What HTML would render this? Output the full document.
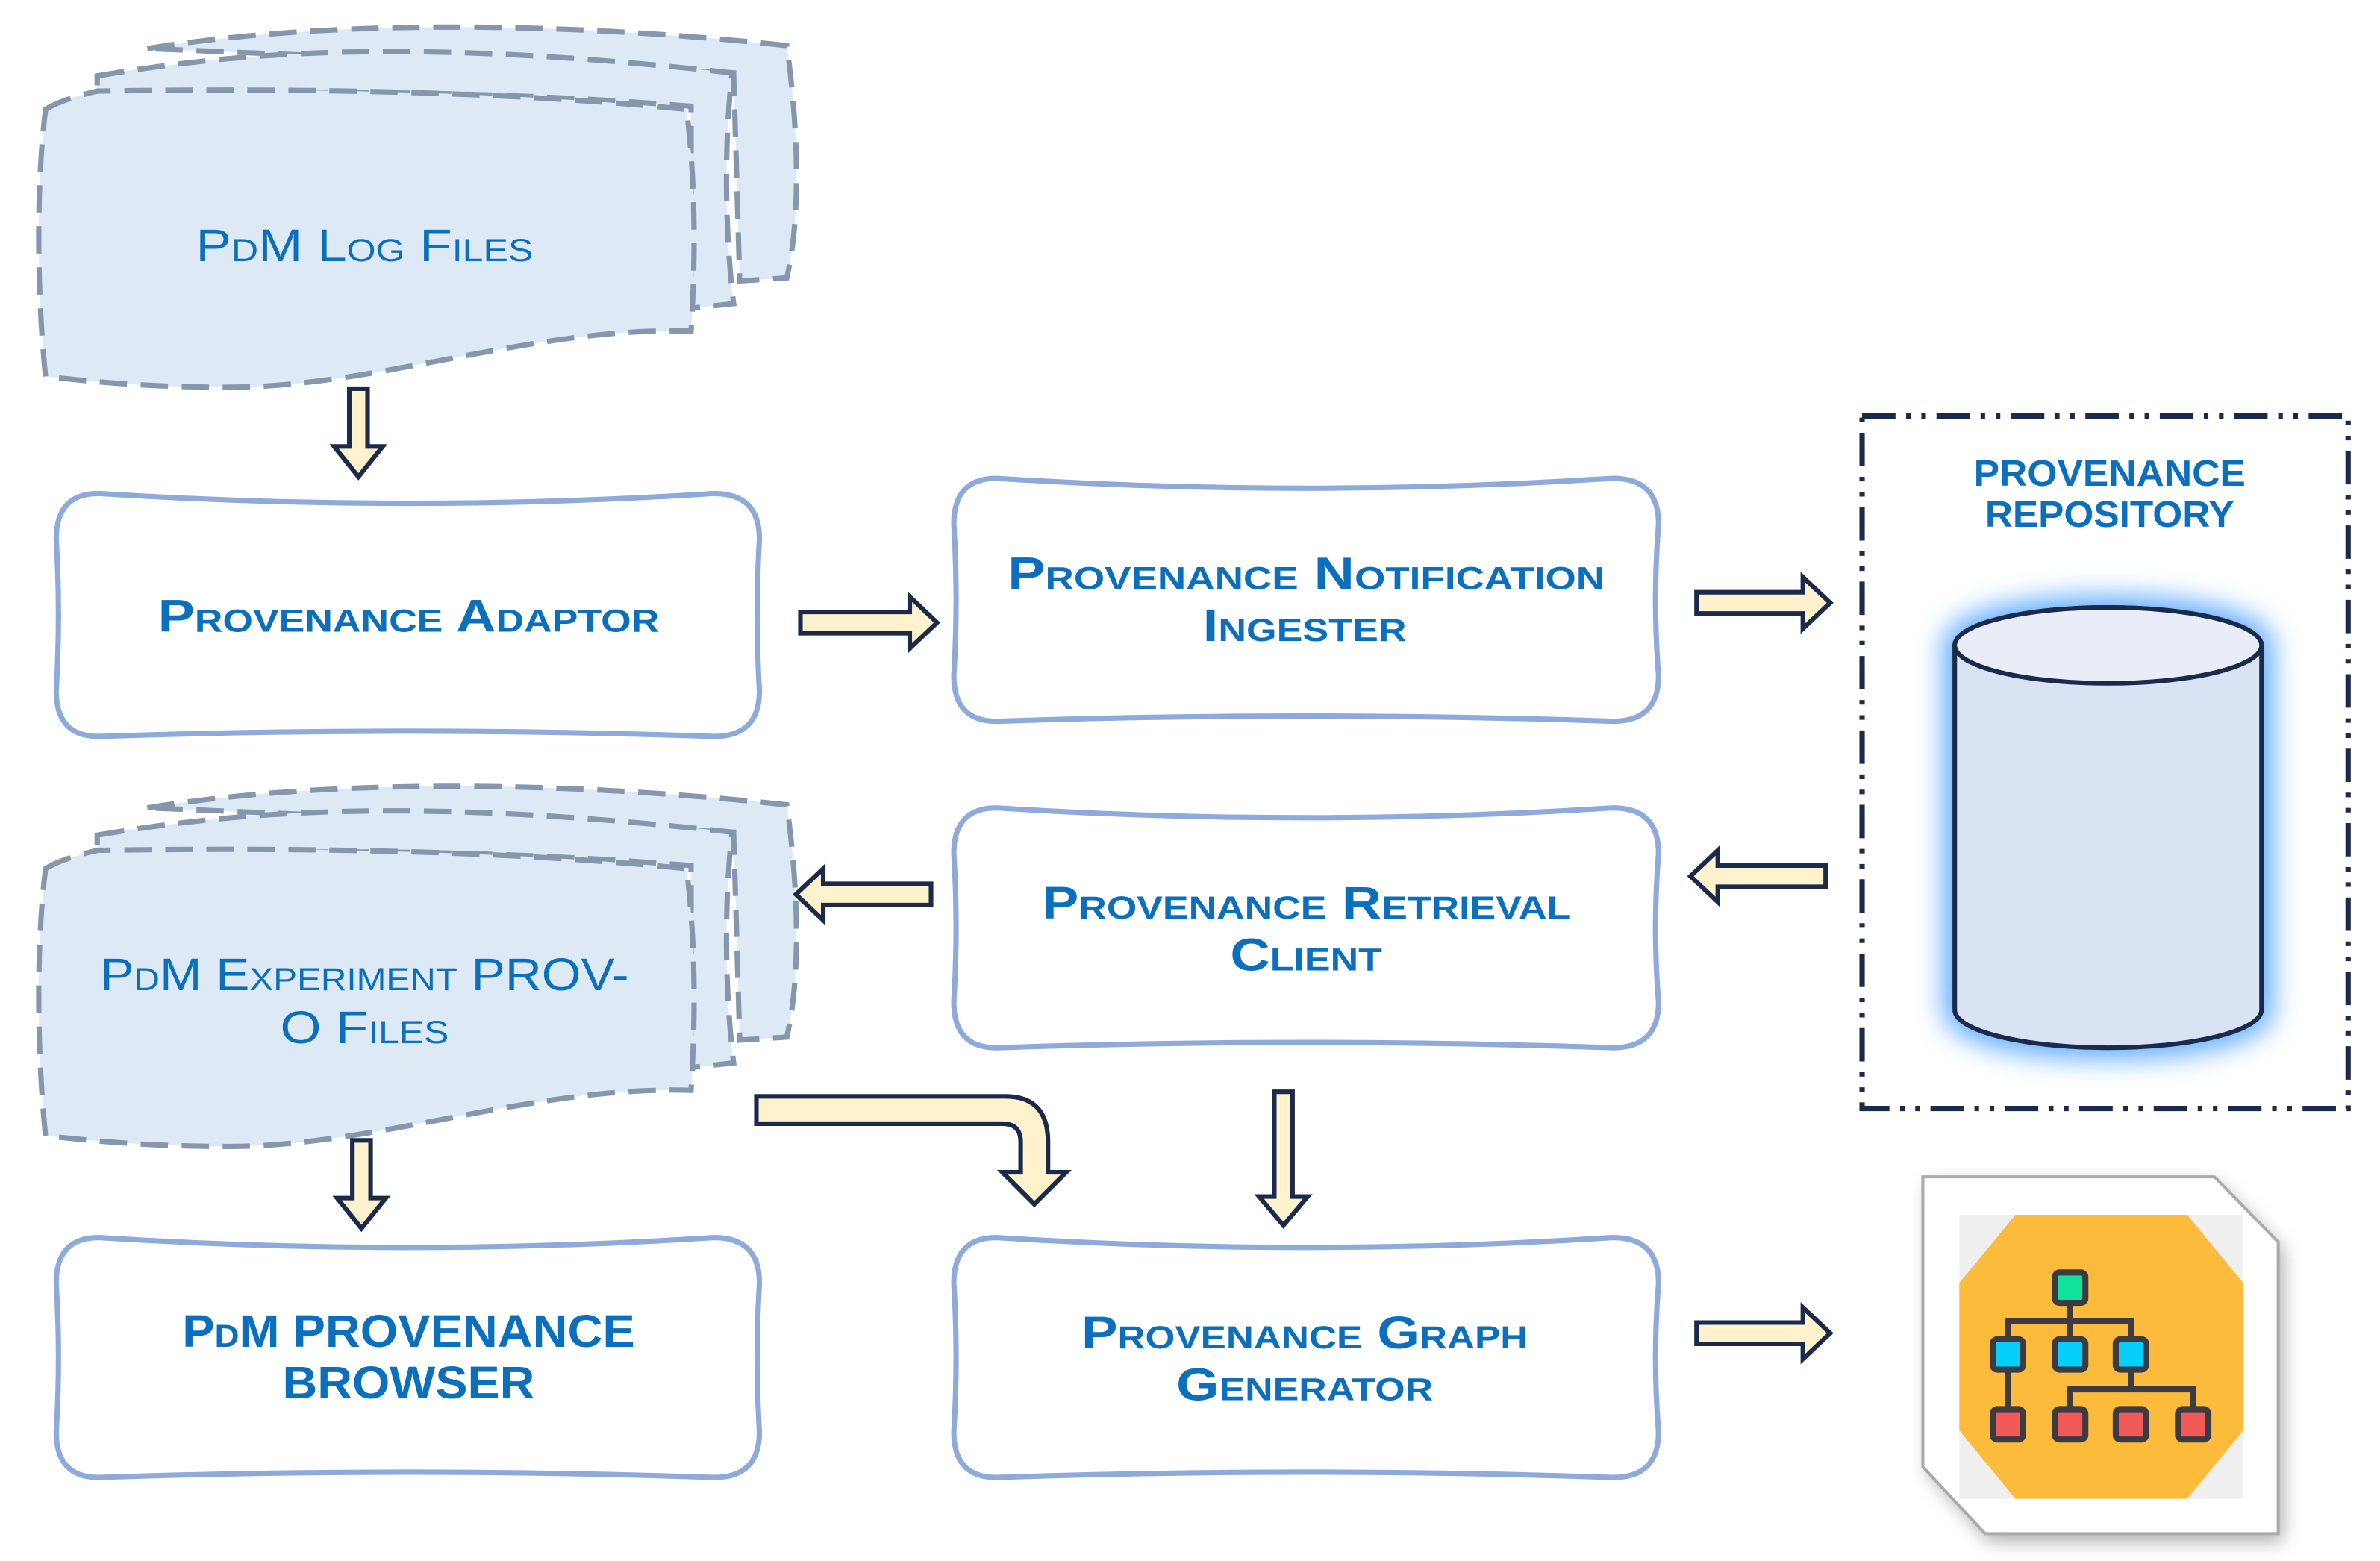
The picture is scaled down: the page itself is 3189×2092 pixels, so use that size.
<!DOCTYPE html>
<html><head><meta charset="utf-8"><style>
html,body{margin:0;padding:0;background:#fff;}
svg{display:block;}
text{font-family:"Liberation Sans",sans-serif;font-variant:small-caps;fill:#0a6fbd;text-anchor:middle;}
.b{font-weight:bold;}
</style></head><body>
<svg width="3189" height="2092" viewBox="0 0 1567 1028" preserveAspectRatio="none" xmlns="http://www.w3.org/2000/svg">
<defs>
<filter id="glow" x="-30%" y="-30%" width="160%" height="160%"><feGaussianBlur stdDeviation="9"/></filter>
<filter id="sh" x="-20%" y="-20%" width="140%" height="140%"><feGaussianBlur stdDeviation="6"/></filter>
<g id="doc">
<path d="M97,32 C200,15 350,12 518,30 C525,80 528,140 518,183 L487,185 L483,48 Z" fill="#dde9f5" stroke="#8596ad" stroke-width="3.5" stroke-dasharray="18,9"/>
<path d="M64,50 C180,30 300,28 482,48 C476,100 478,160 483,200 L455,203 L455,70 C330,60 200,58 64,66 Z" fill="#dde9f5" stroke="#8596ad" stroke-width="3.5" stroke-dasharray="18,9"/>
<path d="M30,72 C40,66 55,62 64,60 C200,58 330,60 452,72 C458,120 458,170 455,218 C350,215 250,255 150,255 C90,255 50,250 30,248 C24,190 24,120 30,72 Z" fill="#dde9f5" stroke="#8596ad" stroke-width="3.5" stroke-dasharray="18,9"/>
</g>
</defs>
<use href="#doc"/>
<use href="#doc" transform="translate(0,500)"/>
<text x="240" y="172" font-size="30" textLength="222" lengthAdjust="spacingAndGlyphs">PdM Log Files</text>
<text x="240" y="652" font-size="30" textLength="348" lengthAdjust="spacingAndGlyphs">PdM Experiment PROV-</text>
<text x="240" y="687" font-size="30" textLength="111" lengthAdjust="spacingAndGlyphs">O Files</text>

<g fill="#fff" stroke="#8eaadb" stroke-width="3.5">
<path d="M65,325 Q270,338 470,325 Q500,325 500,355 Q497,405 500,455 Q500,485 470,485 Q270,478 65,485 Q37,485 37,455 Q40,405 37,355 Q37,325 65,325 Z"/>
<path d="M656,315 Q860,328 1062,315 Q1092,315 1092,345 Q1088,395 1092,445 Q1092,475 1062,475 Q860,468 656,475 Q628,475 628,445 Q631,395 628,345 Q628,315 656,315 Z"/>
<path d="M656,532 Q860,545 1062,532 Q1092,532 1092,562 Q1088,611 1092,660 Q1092,690 1062,690 Q860,683 656,690 Q628,690 628,660 Q631,611 628,562 Q628,532 656,532 Z"/>
<path d="M65,815 Q270,828 470,815 Q500,815 500,845 Q497,894 500,943 Q500,973 470,973 Q270,966 65,973 Q37,973 37,943 Q40,894 37,845 Q37,815 65,815 Z"/>
<path d="M656,815 Q860,828 1062,815 Q1092,815 1092,845 Q1088,894 1092,943 Q1092,973 1062,973 Q860,966 656,973 Q628,973 628,943 Q631,894 628,845 Q628,815 656,815 Z"/>
</g>
<text class="b" x="269" y="416" font-size="30" textLength="330" lengthAdjust="spacingAndGlyphs">Provenance Adaptor</text>
<text class="b" x="860" y="388" font-size="30" textLength="393" lengthAdjust="spacingAndGlyphs">Provenance Notification</text>
<text class="b" x="859" y="422" font-size="30" textLength="134" lengthAdjust="spacingAndGlyphs">Ingester</text>
<text class="b" x="860" y="605" font-size="30" textLength="348" lengthAdjust="spacingAndGlyphs">Provenance Retrieval</text>
<text class="b" x="860" y="639" font-size="30" textLength="100" lengthAdjust="spacingAndGlyphs">Client</text>
<text class="b" x="269" y="887" font-size="30" textLength="298" lengthAdjust="spacingAndGlyphs">PdM PROVENANCE</text>
<text class="b" x="269" y="921" font-size="30" textLength="166" lengthAdjust="spacingAndGlyphs">BROWSER</text>
<text class="b" x="859" y="888" font-size="30" textLength="294" lengthAdjust="spacingAndGlyphs">Provenance Graph</text>
<text class="b" x="859" y="922" font-size="30" textLength="169" lengthAdjust="spacingAndGlyphs">Generator</text>

<rect x="1226" y="274" width="320" height="456" fill="none" stroke="#1a2a4a" stroke-width="3.5" stroke-dasharray="22,7,3,7,3,7"/>
<text class="b" x="1389" y="320" font-size="24" textLength="179" lengthAdjust="spacingAndGlyphs">PROVENANCE</text>
<text class="b" x="1389" y="347" font-size="24" textLength="164" lengthAdjust="spacingAndGlyphs">REPOSITORY</text>
<g filter="url(#glow)"><path d="M1287,425 A101,25 0 0 1 1489,425 V665 A101,25 0 0 1 1287,665 Z" fill="#5aa8ff" stroke="#5aa8ff" stroke-width="14"/></g>
<path d="M1287,425 A101,25 0 0 1 1489,425 V665 A101,25 0 0 1 1287,665 Z" fill="#dae3f3" stroke="#1a2a4a" stroke-width="3"/>
<ellipse cx="1388" cy="425" rx="101" ry="25" fill="#e8edf8" stroke="#1a2a4a" stroke-width="3"/>

<path d="M1270,780 L1460,780 L1503,823 L1503,1015 L1310,1015 L1270,970 Z" fill="#888" filter="url(#sh)" opacity="0.7"/>
<path d="M1266,775 L1458,775 L1500,818 L1500,1010 L1307,1010 L1266,966 Z" fill="#fff" stroke="#aaa" stroke-width="2"/>
<rect x="1290" y="800" width="187" height="187" fill="#efefef"/>
<path d="M1327,800 L1440,800 L1477,845 L1477,942 L1440,987 L1327,987 L1290,942 L1290,845 Z" fill="#fdbb3b"/>
<g stroke="#3e3a42" stroke-width="4" fill="none">
<path d="M1363,858 V870 M1322,882 V870 H1403 V882 M1363,870 V882 M1322,902 V928 M1403,902 V915 M1363,928 V915 H1444 V928"/>
</g>
<g stroke="#3e3a42" stroke-width="4">
<rect x="1353" y="838" width="20" height="20" rx="3" fill="#10e39c"/>
<rect x="1312" y="882" width="20" height="20" rx="3" fill="#05d0fb"/>
<rect x="1353" y="882" width="20" height="20" rx="3" fill="#05d0fb"/>
<rect x="1393" y="882" width="20" height="20" rx="3" fill="#05d0fb"/>
<rect x="1312" y="928" width="20" height="20" rx="3" fill="#f25a59"/>
<rect x="1353" y="928" width="20" height="20" rx="3" fill="#f25a59"/>
<rect x="1393" y="928" width="20" height="20" rx="3" fill="#f25a59"/>
<rect x="1434" y="928" width="20" height="20" rx="3" fill="#f25a59"/>
</g>

<g stroke="#1a2a4a" stroke-width="3" fill="#fff2cc">
<polygon points="230,256 242,256 242,294 252,294 236,314 220,294 230,294"/>
<polygon points="232,751 244,751 244,789 254,789 238,809 222,789 232,789"/>
<polygon points="839,719 851,719 851,788 861,788 845,807 829,788 839,788"/>
<polygon points="527,403 599,403 599,393 617,410 599,427 599,417 527,417"/>
<polygon points="1117,390 1187,390 1187,380 1205,397 1187,414 1187,404 1117,404"/>
<polygon points="1117,871 1187,871 1187,861 1205,878 1187,895 1187,885 1117,885"/>
<polygon points="613,582 542,582 542,572 524,589 542,606 542,596 613,596"/>
<polygon points="1202,570 1131,570 1131,560 1113,577 1131,594 1131,584 1202,584"/>
<path d="M498,722 H662 Q690,722 690,752 V772 H702 L681,793 L660,772 H672 V752 Q672,740 660,740 H498 Z"/>
</g>
</svg>
</body></html>
